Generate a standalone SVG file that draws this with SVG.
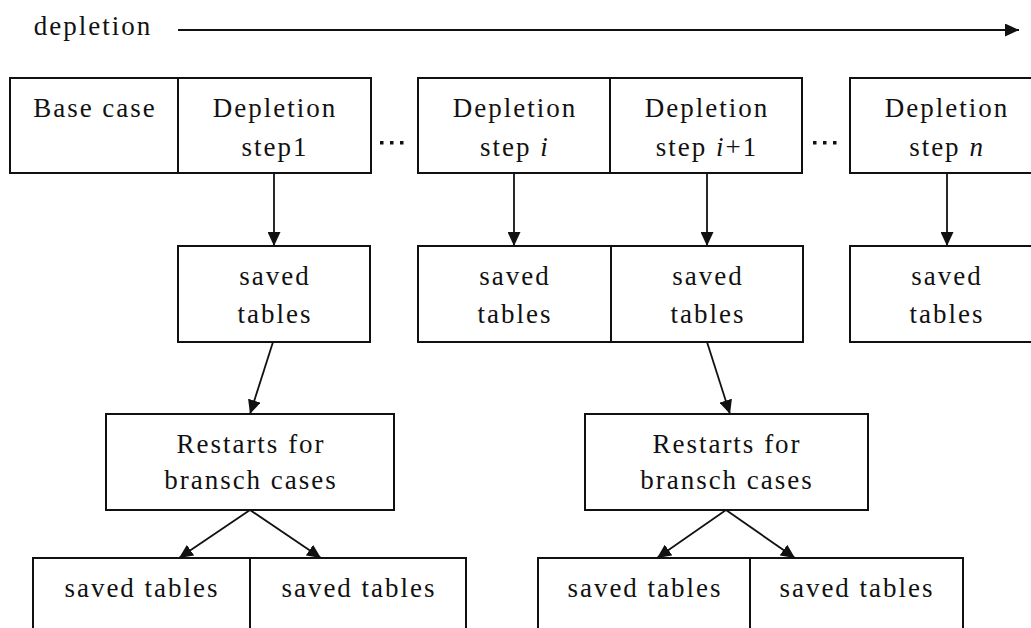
<svg xmlns="http://www.w3.org/2000/svg" width="1031" height="628" viewBox="0 0 1031 628">
  <style>
    .box { fill: #fff; stroke: #111; stroke-width: 2; }
    .lbl { font-family: "Liberation Serif", "Times New Roman", serif; font-size: 27px; letter-spacing: 2px; fill: #111; text-anchor: middle; }
    .it { font-style: italic; }
    .edge { stroke: #111; stroke-width: 1.8; fill: none; marker-end: url(#head); }
    .dot { fill: #111; }
  </style>
  <defs>
    <marker id="head" markerUnits="userSpaceOnUse" markerWidth="15" markerHeight="13" refX="14" refY="6.5" orient="auto">
      <path d="M0,0 L14,6.5 L0,13 Z" fill="#111"/>
    </marker>
  </defs>

  <!-- time axis -->
  <g id="axis">
    <text class="lbl" x="93" y="35">depletion</text>
    <line class="edge" x1="178" y1="30" x2="1019" y2="30"/>
  </g>

  <!-- top row: base case and depletion steps -->
  <g id="base-case">
    <rect class="box" x="10" y="78" width="168" height="95"/>
    <text class="lbl" x="95" y="117">Base case</text>
  </g>
  <g id="step-1">
    <rect class="box" x="178" y="78" width="193" height="95"/>
    <text class="lbl" x="275" y="117">Depletion</text>
    <text class="lbl" x="275" y="156">step1</text>
  </g>
  <g id="ellipsis-1">
    <rect class="dot" x="380" y="141" width="3.5" height="3.5"/>
    <rect class="dot" x="390" y="141" width="3.5" height="3.5"/>
    <rect class="dot" x="400" y="141" width="3.5" height="3.5"/>
  </g>
  <g id="step-i">
    <rect class="box" x="418" y="78" width="192" height="95"/>
    <text class="lbl" x="515" y="117">Depletion</text>
    <text class="lbl" x="515" y="156">step <tspan class="it">i</tspan></text>
  </g>
  <g id="step-i1">
    <rect class="box" x="610" y="78" width="192" height="95"/>
    <text class="lbl" x="707" y="117">Depletion</text>
    <text class="lbl" x="707" y="156">step <tspan class="it">i</tspan>+1</text>
  </g>
  <g id="ellipsis-2">
    <rect class="dot" x="813" y="141" width="3.5" height="3.5"/>
    <rect class="dot" x="823" y="141" width="3.5" height="3.5"/>
    <rect class="dot" x="833" y="141" width="3.5" height="3.5"/>
  </g>
  <g id="step-n">
    <rect class="box" x="850" y="78" width="200" height="95"/>
    <text class="lbl" x="947" y="117">Depletion</text>
    <text class="lbl" x="947" y="156">step <tspan class="it">n</tspan></text>
  </g>

  <!-- saved tables per step -->
  <g id="saved-1">
    <rect class="box" x="178" y="246" width="192" height="96"/>
    <text class="lbl" x="275" y="285">saved</text>
    <text class="lbl" x="275" y="323">tables</text>
  </g>
  <g id="saved-i">
    <rect class="box" x="418" y="246" width="193" height="96"/>
    <text class="lbl" x="515" y="285">saved</text>
    <text class="lbl" x="515" y="323">tables</text>
  </g>
  <g id="saved-i1">
    <rect class="box" x="611" y="246" width="192" height="96"/>
    <text class="lbl" x="708" y="285">saved</text>
    <text class="lbl" x="708" y="323">tables</text>
  </g>
  <g id="saved-n">
    <rect class="box" x="850" y="246" width="200" height="96"/>
    <text class="lbl" x="947" y="285">saved</text>
    <text class="lbl" x="947" y="323">tables</text>
  </g>

  <!-- restart nodes -->
  <g id="restart-1">
    <rect class="box" x="106" y="414" width="288" height="96"/>
    <text class="lbl" x="251" y="453">Restarts for</text>
    <text class="lbl" x="251" y="489">bransch cases</text>
  </g>
  <g id="restart-2">
    <rect class="box" x="585" y="414" width="283" height="96"/>
    <text class="lbl" x="727" y="453">Restarts for</text>
    <text class="lbl" x="727" y="489">bransch cases</text>
  </g>

  <!-- branch saved tables -->
  <g id="branch-1a">
    <rect class="box" x="33" y="558" width="217" height="100"/>
    <text class="lbl" x="142" y="597">saved tables</text>
  </g>
  <g id="branch-1b">
    <rect class="box" x="250" y="558" width="216" height="100"/>
    <text class="lbl" x="359" y="597">saved tables</text>
  </g>
  <g id="branch-2a">
    <rect class="box" x="538" y="558" width="212" height="100"/>
    <text class="lbl" x="645" y="597">saved tables</text>
  </g>
  <g id="branch-2b">
    <rect class="box" x="750" y="558" width="213" height="100"/>
    <text class="lbl" x="857" y="597">saved tables</text>
  </g>

  <!-- connectors -->
  <g id="connectors">
    <line class="edge" x1="274" y1="173" x2="274" y2="246"/>
    <line class="edge" x1="514" y1="173" x2="514" y2="246"/>
    <line class="edge" x1="707" y1="173" x2="707" y2="246"/>
    <line class="edge" x1="947" y1="173" x2="947" y2="246"/>
    <line class="edge" x1="273" y1="342" x2="250" y2="414"/>
    <line class="edge" x1="707" y1="342" x2="730" y2="414"/>
    <line class="edge" x1="250" y1="510" x2="179" y2="558"/>
    <line class="edge" x1="250" y1="510" x2="321" y2="558"/>
    <line class="edge" x1="726" y1="510" x2="657" y2="558"/>
    <line class="edge" x1="726" y1="510" x2="795" y2="558"/>
  </g>
</svg>
